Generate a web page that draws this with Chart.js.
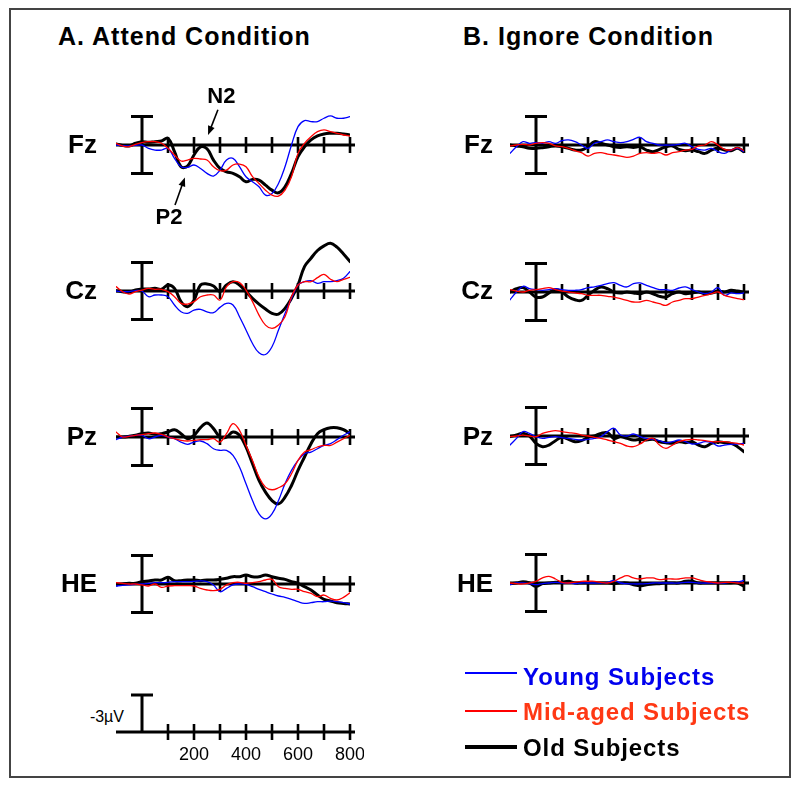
<!DOCTYPE html>
<html>
<head>
<meta charset="utf-8">
<script src="https://cdn.jsdelivr.net/npm/chart.js@4"></script>
<style>
html, body { margin: 0; padding: 0; background: #fff; overflow: hidden; }
body { font-family: "Liberation Sans", Arial, sans-serif; }
#fig { position: relative; width: 800px; height: 787px; }
#frame { position: absolute; left: 9px; top: 8px; width: 782px; height: 770px; box-sizing: border-box; border: 2px solid #444; }
.title { position: absolute; font-weight: bold; font-size: 25px; line-height: 25px; letter-spacing: 1px; white-space: nowrap; }
.elec { position: absolute; width: 60px; text-align: right; font-weight: bold; font-size: 26px; line-height: 26px; }
.panel { position: absolute; }
.leg { position: absolute; left: 465px; height: 24px; white-space: nowrap; }
.leg .sw { position: absolute; left: 0; width: 52px; }
.leg .txt { position: absolute; left: 58px; top: 0; font-weight: bold; font-size: 24px; line-height: 24px; letter-spacing: 0.9px; }
#volt { position: absolute; left: 64px; top: 709px; width: 60px; text-align: right; font-size: 16px; line-height: 16px; }
</style>
</head>
<body>
<div id="fig">
  <div id="frame"></div>
  <div class="title" style="left:58px;top:24px;">A. Attend Condition</div>
  <div class="title" style="left:463px;top:24px;">B. Ignore Condition</div>
  <div id="volt">-3µV</div>
</div>
<script>
'use strict';

// sample times (ms)
const times = [-100, -75, -50, -25, 0, 25, 50, 75, 100, 125, 150, 175, 200, 225, 250, 275, 300, 325, 350, 375, 400, 425, 450, 475, 500, 525, 550, 575, 600, 625, 650, 675, 700, 725, 750, 775, 800];
const tickTimes = [100, 200, 300, 400, 500, 600, 700, 800];
const calibTicks = [200, 400, 600, 800];
const calibLabels = ['200', '400', '600', '800'];
const electrodes = ['Fz', 'Cz', 'Pz', 'HE'];
const groups = ['Young Subjects', 'Mid-aged Subjects', 'Old Subjects'];

// µV, negative plotted up
const attendFzYoung = [0, 0.07, 0.1, 0.04, 0, 0.35, 0.53, 0.53, 0.35, 1.4, 2.28, 2.35, 2.1, 2.46, 2.98, 3.26, 2.63, 1.58, 1.4, 2.28, 3.33, 3.86, 4.39, 5.26, 5.09, 4.04, 2.28, 0, -1.93, -2.56, -2.46, -2.46, -2.81, -3.05, -2.81, -2.81, -2.98];
const attendFzMid = [-0.18, 0.1, 0.18, -0.07, -0.25, -0.35, -0.35, -0.18, 0.35, 1.05, 1.68, 1.58, 1.4, 1.47, 1.58, 2.28, 2.7, 2.63, 2.1, 2, 2.28, 3.33, 4.04, 4.74, 5.26, 5.37, 4.74, 3.33, 0.88, -0.18, -0.88, -1.4, -1.58, -1.4, -1.23, -1.05, -0.95];
const attendFzOld = [-0.1, 0.04, 0.1, -0.18, -0.35, -0.28, -0.35, -0.42, -0.7, 0.7, 2.28, 2.21, 1.05, 0.2, 0.4, 1.58, 2.46, 2.81, 2.98, 3.33, 3.86, 3.61, 3.68, 4.21, 4.74, 5.02, 4.39, 2.98, 1.23, 0.18, -0.53, -0.95, -1.16, -1.23, -1.23, -1.16, -1.05];

const attendCzYoung = [0, 0.07, 0.07, -0.04, 0, 0.6, 0.42, 0.42, 0.6, 1.47, 2.18, 2.35, 2, 1.93, 2.18, 2.28, 1.72, 1.3, 1.47, 2.7, 4.1, 5.51, 6.49, 6.67, 5.86, 4.1, 2.35, 0.77, -0.63, -0.98, -1.09, -0.81, -0.98, -0.98, -1.09, -1.33, -2.04];
const attendCzMid = [-0.46, 0.07, 0.32, 0.07, -0.1, -0.28, -0.18, -0.18, 0.07, 0.6, 1.3, 1.37, 1.12, 0.6, 0.42, 0.42, 0.95, -0.46, -0.98, -0.88, -0.1, 1.12, 2.53, 3.58, 3.93, 3.58, 2.7, 0.6, -0.63, -0.98, -0.98, -1.4, -1.75, -1.23, -0.98, -1.23, -1.44];
const attendCzOld = [-0.04, 0.07, 0.14, -0.1, -0.21, -0.21, -0.28, -0.18, -0.63, -0.28, 1.12, 1.65, 0.95, -0.63, -0.74, -0.53, 0.07, -0.63, -0.98, -0.63, 0.07, 0.77, 1.37, 1.89, 2.35, 2.42, 1.82, 0.77, -0.63, -2.56, -3.44, -4.25, -4.74, -5.02, -4.6, -3.89, -3.09];

const attendPzYoung = [0.28, 0, -0.1, -0.18, -0.18, 0.18, 0, -0.18, 0, 0.18, 0.53, 0.77, 0.53, 0.42, 0.7, 1.23, 1.4, 1.4, 1.93, 3.16, 4.91, 6.67, 8.07, 8.6, 8.07, 6.67, 4.91, 3.51, 2.46, 1.75, 1.58, 1.23, 0.88, 0.7, 0.28, -0.18, -0.53];
const attendPzMid = [-0.53, 0, -0.07, -0.18, -0.25, -0.35, -0.42, -0.28, 0, 0.18, 0.35, 0.42, 0.35, 0.28, 0.28, 0.18, 0.53, -0.35, -1.4, -0.7, 0.88, 2.46, 4.21, 5.26, 5.54, 5.33, 4.91, 3.86, 2.46, 1.58, 1.33, 1.05, 0.88, 0.88, 0.53, 0.18, -0.18];
const attendPzOld = [0, 0, -0.07, -0.18, -0.35, -0.42, -0.28, -0.35, -0.53, -0.77, -0.35, 0.18, -0.18, -0.98, -1.47, -0.88, 0, 0, -0.53, -0.18, 1.05, 2.81, 4.56, 5.79, 6.67, 7.02, 6.32, 5.09, 3.51, 2.1, 0.7, -0.35, -0.77, -0.98, -0.98, -0.77, -0.35];

const attendHEYoung = [0.21, 0.14, 0.1, 0.04, 0, -0.07, -0.14, -0.14, -0.18, -0.25, -0.25, -0.25, -0.28, -0.32, -0.25, 0.1, 0.81, 0.46, 0.1, 0, 0.04, 0.28, 0.56, 0.81, 1.05, 1.26, 1.4, 1.61, 1.86, 2.04, 1.96, 1.86, 1.86, 1.79, 1.86, 1.96, 2.1];
const attendHEMid = [-0.14, -0.07, 0, 0, 0.1, 0.21, 0, 0.35, 0.21, 0.18, 0.18, 0.18, 0.21, 0.46, 0.63, 0.7, 0.56, 0.1, -0.14, -0.18, -0.07, -0.14, -0.25, -0.42, -0.49, 0.28, 0.46, 0.56, 0.56, 0.81, 0.98, 1.33, 1.16, 1.51, 1.68, 1.4, 0.91];
const attendHEOld = [0.1, 0, -0.07, -0.07, -0.25, -0.32, -0.42, -0.42, -0.7, -0.35, -0.35, -0.42, -0.42, -0.35, -0.42, -0.42, -0.49, -0.6, -0.77, -0.77, -0.95, -0.77, -0.77, -0.95, -0.77, -0.6, -0.49, -0.25, -0.07, 0.28, 0.63, 1.16, 1.61, 1.79, 1.96, 2.04, 2.1];

const ignoreFzYoung = [0.88, 0.18, -0.35, -0.18, -0.25, -0.18, -0.35, -0.18, -0.46, -0.53, -0.35, 0, 0.35, -0.18, -0.35, -0.53, -0.35, -0.25, -0.35, -0.6, -0.81, -0.35, -0.18, 0, 0, 0, -0.07, -0.18, 0.18, 0.46, 0.53, 0.35, 0.7, 0.88, 0.53, 0.35, 0.7];
const ignoreFzMid = [0.1, 0, -0.07, 0, -0.18, -0.25, -0.18, 0.1, 0.18, 0.35, 0.6, 0.81, 1.16, 0.88, 0.81, 0.95, 1.05, 1.16, 1.3, 1.16, 0.88, 0.81, 0.88, 0.81, 1.05, 0.81, 0.7, 0.53, 0.46, 0.1, 0, -0.35, 0, 0.46, 0.53, 0.28, 0.6];
const ignoreFzOld = [0, 0.1, 0.18, 0.35, 0.35, 0.28, 0.18, 0.1, 0.18, 0.35, 0.53, 0.53, 0.18, -0.35, -0.18, 0, 0.18, 0.25, 0.18, 0.25, 0.18, 0.53, 0.7, 0.46, 0.18, 0.1, 0.46, 0.6, 0.53, 0.7, 0.88, 0.53, 0.35, 0.53, 0.6, 0.35, 0.7];

const ignoreCzYoung = [0.81, 0, -0.6, -0.35, -0.25, -0.18, -0.25, -0.35, -0.25, -0.18, -0.18, -0.25, -0.46, -0.53, -0.7, -0.88, -0.98, -0.7, -0.53, -0.88, -0.95, -0.7, -0.46, -0.25, -0.25, -0.18, -0.42, -0.53, -0.25, 0, 0.18, 0, -0.46, 0.35, 0.1, 0.18, 0.1];
const ignoreCzMid = [-0.25, -0.1, 0, -0.18, -0.25, -0.35, -0.46, -0.25, -0.1, 0, 0.1, 0.18, 0.35, 0.35, 0.35, 0.46, 0.53, 0.7, 0.88, 1.05, 1.05, 0.88, 1.05, 1.23, 1.4, 1.05, 0.88, 0.7, 0.7, 0.53, 0.35, 0.18, 0, 0.35, 0.53, 0.7, 0.81];
const ignoreCzOld = [0, -0.35, -0.46, 0, 0.53, 0.53, 0.1, -0.25, 0, 0.53, 0.81, 0.88, 0.35, -0.18, -0.53, -0.35, 0, 0.1, 0, 0.1, 0.18, 0, 0.18, 0.46, 0.53, 0.18, 0, 0.18, 0.1, 0, 0.18, 0.1, -0.1, 0, -0.18, -0.1, 0];

const ignorePzYoung = [0.95, 0.25, -0.46, -0.28, 0.07, 0.25, 0.14, 0.07, 0.18, 0.25, 0.35, 0.42, 0.35, 0.25, 0.07, -0.46, -0.81, -0.1, 0, -0.21, 0.07, 0.25, 0.35, 0.49, 0.7, 0.6, 0.42, 0.6, 0.84, 0.77, 0.6, 0.7, 1.05, 0.95, 0.88, 0.84, 0.77];
const ignorePzMid = [0.07, 0, -0.1, 0, 0.07, -0.28, -0.46, -0.56, -0.46, -0.35, -0.28, -0.1, 0, 0.14, 0.25, 0.42, 0.6, 0.77, 1.05, 1.12, 0.84, 0.42, 0.25, 0.95, 1.3, 0.95, 0.6, 0.42, 0.35, 0.42, 0.49, 0.6, 0.6, 0.6, 0.7, 0.77, 0.95];
const ignorePzOld = [0.07, -0.1, -0.28, 0, 0.77, 1.12, 0.95, 0.49, 0.14, 0.35, 0.6, 0.49, 0.14, 0, -0.28, -0.35, 0.25, 0.07, 0.25, 0.42, 0.35, 0.42, 0.35, 0.6, 0.7, 0.77, 0.6, 0.7, 0.6, 0.95, 1.12, 0.77, 0.6, 0.7, 0.77, 1.12, 1.65];

const ignoreHEYoung = [0.18, 0, 0, 0.07, 0.18, 0.07, 0, -0.07, 0, 0, 0.07, 0, 0, 0, 0, -0.07, -0.28, 0, 0.07, 0.1, 0.1, 0.07, 0, 0, 0, 0, 0, -0.07, -0.07, 0, 0, 0, 0, 0, -0.1, -0.1, -0.28];
const ignoreHEMid = [0, 0.07, 0.1, 0, -0.18, -0.53, -0.7, -0.42, -0.07, 0, -0.1, -0.18, -0.18, -0.18, -0.07, 0, -0.18, -0.53, -0.77, -0.53, -0.42, -0.53, -0.53, -0.35, -0.42, -0.42, -0.42, -0.53, -0.53, -0.35, -0.18, -0.1, 0, -0.07, -0.07, 0, 0];
const ignoreHEOld = [0.07, 0, -0.14, 0, 0.35, 0.07, 0, -0.07, -0.07, -0.18, 0, 0, 0, 0, 0, 0, 0.07, 0, 0, 0.18, 0.28, 0.18, 0.1, 0.07, 0, 0, 0, -0.18, -0.18, 0, 0, 0, 0, 0, 0, 0, 0.35];

// component labels on the attend Fz panel: [label, arrow tail t, tail µV, head t, head µV, text t, text µV]
const notes = [
    ['N2', 292, -3.7, 254, -1.05, 305, -4.4],
    ['P2', 127, 6.3, 165, 3.4, 104, 8.3]
];

const colors = ['#0000ff', '#ff0000', '#000000'];
const widths = [1.3, 1.3, 3];
const layers = [1, 0, 2];

const rows = [
    { name: 'Fz', base: 145, attend: [attendFzYoung, attendFzMid, attendFzOld], ignore: [ignoreFzYoung, ignoreFzMid, ignoreFzOld] },
    { name: 'Cz', base: 291, attend: [attendCzYoung, attendCzMid, attendCzOld], ignore: [ignoreCzYoung, ignoreCzMid, ignoreCzOld] },
    { name: 'Pz', base: 437, attend: [attendPzYoung, attendPzMid, attendPzOld], ignore: [ignorePzYoung, ignorePzMid, ignorePzOld] },
    { name: 'HE', base: 584, attend: [attendHEYoung, attendHEMid, attendHEOld], ignore: [ignoreHEYoung, ignoreHEMid, ignoreHEOld] }
];

let fig = document.getElementById('fig');

let erpAxes = {
    id: 'erpAxes',
    beforeDatasetsDraw(chart, args, o) {
        const { ctx, scales: { x, y } } = chart;
        const y0 = y.getPixelForValue(0);
        ctx.save();
        ctx.strokeStyle = '#000';
        ctx.fillStyle = '#000';
        ctx.lineWidth = 3;
        ctx.beginPath();
        ctx.moveTo(x.getPixelForValue(-100), y0);
        ctx.lineTo(x.getPixelForValue(800) + 5, y0);
        ctx.stroke();
        ctx.lineWidth = 2.6;
        tickTimes.forEach(t => {
            const px = Math.round(x.getPixelForValue(t));
            ctx.beginPath();
            ctx.moveTo(px, y0 - 8);
            ctx.lineTo(px, y0 + 8);
            ctx.stroke();
        });
        // calibration bar at stimulus onset
        const bx = Math.round(x.getPixelForValue(0));
        const top = y.getPixelForValue(o.barTop);
        const bot = y.getPixelForValue(o.barBottom);
        ctx.lineWidth = 3;
        ctx.beginPath();
        ctx.moveTo(bx, top);
        ctx.lineTo(bx, bot);
        ctx.moveTo(bx - 11, top);
        ctx.lineTo(bx + 11, top);
        if (o.barBottom !== 0) {
            ctx.moveTo(bx - 11, bot);
            ctx.lineTo(bx + 11, bot);
        }
        ctx.stroke();
        if (o.calib) {
            ctx.font = '18px "Liberation Sans", Arial, sans-serif';
            ctx.textAlign = 'center';
            ctx.textBaseline = 'alphabetic';
            calibTicks.forEach((t, i) => ctx.fillText(calibLabels[i], x.getPixelForValue(t), y0 + 28));
        }
        ctx.restore();
    },
    afterDatasetsDraw(chart, args, o) {
        if (!o.notes) return;
        const { ctx, scales: { x, y } } = chart;
        ctx.save();
        ctx.strokeStyle = '#000';
        ctx.fillStyle = '#000';
        ctx.lineWidth = 1.6;
        ctx.font = 'bold 22px "Liberation Sans", Arial, sans-serif';
        ctx.textAlign = 'center';
        ctx.textBaseline = 'alphabetic';
        o.notes.forEach(n => {
            const x1 = x.getPixelForValue(n[1]), y1 = y.getPixelForValue(n[2]);
            const x2 = x.getPixelForValue(n[3]), y2 = y.getPixelForValue(n[4]);
            const a = Math.atan2(y2 - y1, x2 - x1);
            ctx.beginPath();
            ctx.moveTo(x1, y1);
            ctx.lineTo(x2 - 5 * Math.cos(a), y2 - 5 * Math.sin(a));
            ctx.stroke();
            ctx.beginPath();
            ctx.moveTo(x2, y2);
            ctx.lineTo(x2 - 9 * Math.cos(a) + 3.5 * Math.sin(a), y2 - 9 * Math.sin(a) - 3.5 * Math.cos(a));
            ctx.lineTo(x2 - 9 * Math.cos(a) - 3.5 * Math.sin(a), y2 - 9 * Math.sin(a) + 3.5 * Math.cos(a));
            ctx.closePath();
            ctx.fill();
            ctx.fillText(n[0], x.getPixelForValue(n[5]), y.getPixelForValue(n[6]));
        });
        ctx.restore();
    }
};

let makePanel = (left, top, height, yMax, series, opts) => {
    const canvas = document.createElement('canvas');
    canvas.width = 268;
    canvas.height = height;
    canvas.className = 'panel';
    canvas.style.left = left + 'px';
    canvas.style.top = top + 'px';
    fig.appendChild(canvas);
    new Chart(canvas, {
        type: 'line',
        data: {
            datasets: series.map((arr, i) => ({
                label: groups[i],
                data: times.map((t, k) => ({ x: t, y: arr[k] })),
                borderColor: colors[i],
                borderWidth: widths[i],
                order: layers[i],
                pointRadius: 0,
                tension: 0.4,
                fill: false,
                borderJoinStyle: 'round',
                borderCapStyle: 'round'
            }))
        },
        options: {
            responsive: false,
            animation: false,
            layout: { padding: { left: 20, right: 14, top: 0, bottom: 0 } },
            scales: {
                x: { type: 'linear', min: -100, max: 800, display: false },
                y: { type: 'linear', min: -yMax, max: yMax, reverse: true, display: false }
            },
            plugins: {
                legend: { display: false },
                tooltip: { enabled: false },
                erpAxes: opts
            }
        },
        plugins: [erpAxes]
    });
};

let addLabel = (text, right, base) => {
    const el = document.createElement('div');
    el.className = 'elec';
    el.textContent = text;
    el.style.left = (right - 60) + 'px';
    el.style.top = (base - 14) + 'px';
    fig.appendChild(el);
};

rows.forEach((row, r) => {
    makePanel(96, row.base - 100, 200, 10.5, row.attend, { barTop: -3, barBottom: 3, notes: r === 0 ? notes : null });
    makePanel(490, row.base - 100 + (r === 1 ? 1 : r > 1 ? -1 : 0), 200, 10.5, row.ignore, { barTop: -3, barBottom: 3 });
    addLabel(electrodes[r], 97, row.base);
    addLabel(electrodes[r], 493, row.base);
});

// time / voltage calibration axes
makePanel(96, 732 - 70, 140, 5.675, [], { barTop: -3, barBottom: 0, calib: true });

// legend
const legendTops = [665, 700, 736];
const legendLines = [673, 711, 747];
const legendText = ['#0000ee', '#ff3814', '#000000'];
const legendWidths = [2, 2, 3.5];
groups.forEach((g, i) => {
    const el = document.createElement('div');
    el.className = 'leg';
    el.style.top = legendTops[i] + 'px';
    el.innerHTML = '<span class="sw"></span><span class="txt"></span>';
    const sw = el.querySelector('.sw');
    sw.style.background = colors[i];
    sw.style.height = legendWidths[i] + 'px';
    sw.style.top = (legendLines[i] - legendTops[i] - legendWidths[i] / 2) + 'px';
    const tx = el.querySelector('.txt');
    tx.style.color = legendText[i];
    tx.textContent = g;
    fig.appendChild(el);
});
</script>
</body>
</html>
